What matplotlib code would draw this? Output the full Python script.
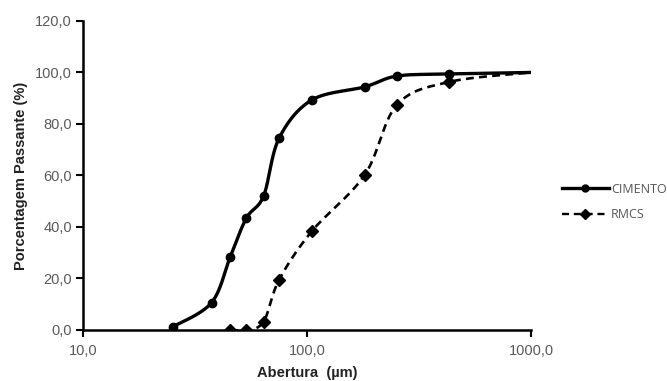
import numpy as np
import matplotlib
matplotlib.use('Agg')
import matplotlib.pyplot as plt
from matplotlib.ticker import FuncFormatter
from matplotlib.lines import Line2D

# dados
abertura_cimento = [25.3, 37.5, 45.5, 53.6, 64.0, 75.0, 105.0, 181.0, 252.0, 430.0, 1000.0]
passante_cimento = [1.3, 10.6, 28.5, 43.4, 52.0, 74.4, 89.3, 94.4, 98.6, 99.4, 100.0]

abertura_rmcs = [45.5, 53.6, 64.0, 75.0, 105.0, 181.0, 252.0, 430.0, 1000.0]
passante_rmcs = [0.0, 0.0, 3.2, 19.4, 38.3, 60.2, 87.4, 96.3, 100.0]


def suaviza(x, y, n=40):
    # linha suavizada tipo excel: bezier com tangentes catmull-rom
    # calculadas no espaco da tela (log x, y linear)
    sx, sy = 224.0, 309.0 / 120.0
    u = np.log10(x) * sx
    v = np.asarray(y, float) * sy
    P = np.column_stack([u, v])
    P = np.vstack([P[0], P, P[-1]])
    t = np.linspace(0, 1, n)[:, None]
    pts = []
    for i in range(1, len(P) - 2):
        p0, p1, p2, p3 = P[i-1], P[i], P[i+1], P[i+2]
        c1 = p1 + (p2 - p0) / 6.0
        c2 = p2 - (p3 - p1) / 6.0
        b = ((1-t)**3)*p1 + 3*((1-t)**2)*t*c1 + 3*(1-t)*t**2*c2 + t**3*p2
        pts.append(b)
    pts = np.vstack(pts)
    return 10**(pts[:, 0] / sx), pts[:, 1] / sy


fig = plt.figure(figsize=(6.67, 3.81), dpi=100)
ax = fig.add_axes([0.1244, 0.134, 0.6717, 0.811])

xs, ys = suaviza(abertura_cimento, passante_cimento)
ax.plot(xs, ys, color='black', lw=2.4, zorder=3)
ax.plot(abertura_cimento[:-1], passante_cimento[:-1], 'o', color='black', ms=6, zorder=4)

xs, ys = suaviza(abertura_rmcs, passante_rmcs)
ax.plot(xs, ys, color='black', lw=1.9, ls=(0, (3, 2)), zorder=3)
ax.plot(abertura_rmcs[:-1], passante_rmcs[:-1], 'D', color='black', ms=6, zorder=4)

ax.set_xscale('log')
ax.set_xlim(10, 1000)
ax.set_ylim(0, 120)
ax.set_yticks(np.arange(0, 121, 20))
ax.set_xticks([10, 100, 1000])
ax.xaxis.set_minor_locator(plt.NullLocator())
fmt = FuncFormatter(lambda v, p: ('%.1f' % v).replace('.', ','))
ax.xaxis.set_major_formatter(fmt)
ax.yaxis.set_major_formatter(fmt)

for s in ['top', 'right']:
    ax.spines[s].set_visible(False)
for s in ['left', 'bottom']:
    ax.spines[s].set_linewidth(1.8)
ax.tick_params(direction='out', length=5, width=1.5, labelsize=10.5,
               labelcolor='#5a5a5a', pad=3)
ax.tick_params(axis='x', pad=5)
for lb in ax.get_xticklabels() + ax.get_yticklabels():
    lb.set_family('Liberation Sans')

ax.set_xlabel('Abertura  (µm)', fontsize=10.5, fontweight='bold',
              family='Liberation Sans', color='#222222', labelpad=6)
ax.set_ylabel('Porcentagem Passante (%)', fontsize=10.5, fontweight='bold',
              family='Liberation Sans', color='#222222', labelpad=5)

# legenda fora do grafico
h1 = Line2D([], [], color='black', lw=2.4, marker='o', ms=5)
h2 = Line2D([], [], color='black', lw=1.7, ls=(0, (3, 2)), marker='D', ms=5)
leg = fig.legend([h1, h2], ['CIMENTO', 'RMCS'], loc='center left',
                 bbox_to_anchor=(0.825, 0.47), frameon=False, handlelength=3.8,
                 handletextpad=0.15, labelspacing=1.0,
                 prop={'family': 'Open Sans', 'size': 9})
for t in leg.get_texts():
    t.set_color('#555555')

fig.savefig('out.png', dpi=100)
